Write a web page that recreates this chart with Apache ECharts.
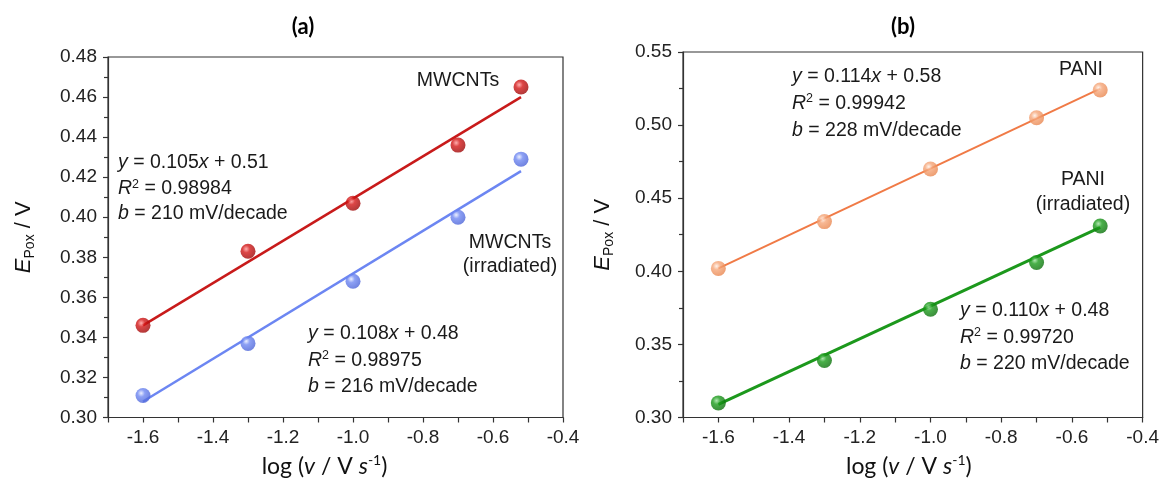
<!DOCTYPE html>
<html><head><meta charset="utf-8">
<script src="https://cdn.jsdelivr.net/npm/echarts@6/dist/echarts.min.js"></script>
<style>html,body{margin:0;padding:0;background:#fff}#c{width:1162px;height:483px}</style>
</head><body><div id="c"></div>
<script>
// ---- data ----
var logV = [-1.6, -1.3, -1.0, -0.7, -0.52];
var mwcnts = [0.346, 0.383, 0.407, 0.436, 0.465];
var mwcntsIrr = [0.311, 0.337, 0.368, 0.400, 0.429];
var pani = [0.402, 0.434, 0.470, 0.505, 0.524];
var paniIrr = [0.310, 0.339, 0.374, 0.406, 0.431];
// fitted lines (end points)
var fitMwcnts = [[-1.6, 0.346], [-0.52, 0.460]];
var fitMwcntsIrr = [[-1.6, 0.308], [-0.52, 0.423]];
var fitPani = [[-1.6, 0.402], [-0.52, 0.525]];
var fitPaniIrr = [[-1.6, 0.309], [-0.52, 0.430]];
var xTicks = [-1.7, -0.4];
var yTicksA = [0.30, 0.48];
var yTicksB = [0.30, 0.55];

var AR = 'Liberation Sans', CAL = 'Lato';
function zip(xs, ys) { return xs.map(function (x, i) { return [x, ys[i]]; }); }
function ball(light, base, dark) {
  return { type: 'radial', x: 0.38, y: 0.35, r: 0.7,
    colorStops: [{ offset: 0, color: light }, { offset: 0.35, color: base }, { offset: 1, color: dark }] };
}
function xAxisCfg(gi, padR) {
  return {
    type: 'value', gridIndex: gi, min: xTicks[0], max: xTicks[1], interval: 0.1,
    name: '{n|log (}{i|v}{n| / V }{i|s}{sup|-1}{n|)}', nameLocation: 'middle', nameGap: 36,
    nameTextStyle: { padding: [0, padR, 0, 0], rich: {
      n: { fontFamily: CAL, fontSize: 23, color: '#111', lineHeight: 26 },
      i: { fontFamily: CAL, fontSize: 23, color: '#111', fontStyle: 'italic', lineHeight: 26 },
      sup: { fontFamily: CAL, fontSize: 14, color: '#111', verticalAlign: 'top', lineHeight: 14 } } },
    axisLine: { show: true, onZero: false, lineStyle: { color: '#333', width: 1.2 } },
    axisTick: { show: true, inside: false, length: 5, lineStyle: { color: '#333', width: 1.2 } },
    axisLabel: { margin: 11, fontFamily: AR, fontSize: 19, color: '#222',
      formatter: function (v) { return Math.abs(Math.round(v * 10)) % 2 === 0 ? v.toFixed(1) : ''; } },
    splitLine: { show: false }
  };
}
function yAxisCfg(gi, mm, iv, gap) {
  return {
    type: 'value', gridIndex: gi, min: mm[0], max: mm[1], interval: iv,
    name: '{i|E}{sub|Pox}{n| / V}', nameLocation: 'middle', nameGap: gap,
    nameTextStyle: { rich: {
      n: { fontFamily: AR, fontSize: 22, color: '#111', lineHeight: 26 },
      i: { fontFamily: AR, fontSize: 22, color: '#111', fontStyle: 'italic', lineHeight: 26 },
      sub: { fontFamily: AR, fontSize: 14, color: '#111', verticalAlign: 'bottom', lineHeight: 18 } } },
    axisLine: { show: true, onZero: false, lineStyle: { color: '#333', width: 1.2 } },
    axisTick: { show: true, inside: false, length: 5, lineStyle: { color: '#333', width: 1.2 } },
    minorTick: { show: true, splitNumber: 2, length: 4, lineStyle: { color: '#333', width: 1.2 } },
    axisLabel: { margin: 11, fontFamily: AR, fontSize: 19, color: '#222',
      formatter: function (v) { return v.toFixed(2); } },
    splitLine: { show: false }
  };
}
function scatter(gi, ys, col) {
  return { type: 'scatter', xAxisIndex: gi, yAxisIndex: gi, data: zip(logV, ys), symbolSize: 15, z: 5,
    itemStyle: { color: col } };
}
function fit(gi, pts, col, w) {
  return { type: 'line', xAxisIndex: gi, yAxisIndex: gi, data: pts, symbol: 'none', z: 3,
    lineStyle: { color: col, width: w } };
}
var FS = 19.5;
function rich(lh) {
  return {
    n: { fontFamily: AR, fontSize: FS, fill: '#1a1a1a', lineHeight: lh },
    i: { fontFamily: AR, fontSize: FS, fill: '#1a1a1a', fontStyle: 'italic', lineHeight: lh },
    sup: { fontFamily: AR, fontSize: 12.5, fill: '#1a1a1a', verticalAlign: 'top', lineHeight: 12, padding: [2, 0, 0, 0] }
  };
}
function eqText(x, y, lh, eq, r2, b) {
  return { type: 'text', left: x, top: y, style: {
    text: '{i|y}{n| = ' + eq[0] + '}{i|x}{n| + ' + eq[1] + '}\n{i|R}{sup|2}{n| = ' + r2 + '}\n{i|b}{n| = ' + b + ' mV/decade}',
    rich: rich(lh), fontFamily: AR, fontSize: FS, fill: '#1a1a1a' } };
}
function label(cx, cy, txt, lh) {
  return { type: 'text', x: cx, y: cy, style: { text: txt, fontFamily: AR, fontSize: FS, fill: '#1a1a1a',
    align: 'center', verticalAlign: 'middle', lineHeight: lh } };
}
var chart = echarts.init(document.getElementById('c'));
chart.setOption({
  animation: false,
  backgroundColor: '#fff',
  grid: [
    { left: 108, top: 57, width: 455, height: 366, show: true, borderColor: '#333', borderWidth: 1.2 },
    { left: 683, top: 52, width: 461, height: 370, show: true, borderColor: '#333', borderWidth: 1.2 }
  ],
  xAxis: [xAxisCfg(0, 22), xAxisCfg(1, 8)],
  yAxis: [yAxisCfg(0, yTicksA, 0.02, 71), yAxisCfg(1, yTicksB, 0.05, 67)],
  series: [
    fit(0, fitMwcnts, '#c81a1a', 2.5),
    fit(0, fitMwcntsIrr, '#6c86f2', 2.5),
    scatter(0, mwcnts, ball('#ff9a9a', '#d41818', '#9a0606')),
    scatter(0, mwcntsIrr, ball('#e6ebff', '#6f88f2', '#4a62d6')),
    fit(1, fitPani, '#f07a46', 2),
    fit(1, fitPaniIrr, '#1c981c', 3),
    scatter(1, pani, ball('#fff0e6', '#f5a679', '#e8844c')),
    scatter(1, paniIrr, ball('#9de09d', '#1c9c1c', '#0a6e0a'))
  ],
  graphic: [
    { type: 'text', x: 303, y: 27, style: { text: '(a)', fontFamily: CAL, fontWeight: 'bold', fontSize: 22, fill: '#000', align: 'center', verticalAlign: 'middle' } },
    { type: 'text', x: 903, y: 27, style: { text: '(b)', fontFamily: CAL, fontWeight: 'bold', fontSize: 22, fill: '#000', align: 'center', verticalAlign: 'middle' } },
    label(458, 81, 'MWCNTs', 24),
    label(510, 255, 'MWCNTs\n(irradiated)', 24),
    label(1081, 70, 'PANI', 24),
    label(1083, 192, 'PANI\n(irradiated)', 25),
    eqText(118, 153, 25.5, ['0.105', '0.51'], '0.98984', '210'),
    eqText(308, 324, 26.5, ['0.108', '0.48'], '0.98975', '216'),
    eqText(792, 67, 27, ['0.114', '0.58'], '0.99942', '228'),
    eqText(960, 301, 26.5, ['0.110', '0.48'], '0.99720', '220')
  ]
});
</script></body></html>
